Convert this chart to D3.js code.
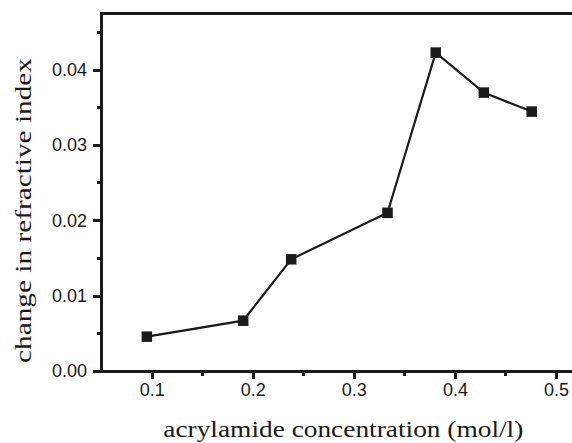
<!DOCTYPE html>
<html><head><meta charset="utf-8">
<script src="https://cdn.jsdelivr.net/npm/d3@7"></script>
<style>body{margin:0;background:#fff}svg{display:block}</style>
</head><body>
<script>
const concentration = [0.0952, 0.1905, 0.238, 0.3333, 0.381, 0.4286, 0.476];
const deltaN = [0.00456, 0.00668, 0.01483, 0.0210, 0.04227, 0.03696, 0.03444];
const xTicks = [0.1, 0.2, 0.3, 0.4, 0.5];
const yTicks = [0.00, 0.01, 0.02, 0.03, 0.04];
const xMinor = [0.15, 0.25, 0.35, 0.45];
const yMinor = [0.005, 0.015, 0.025, 0.035, 0.045];

const W = 572, H = 443;
const ink = "#1a1a1a";
const svg = d3.select("body").append("svg").attr("width", W).attr("height", H);

const x = d3.scaleLinear().domain([0.1, 0.5]).range([151.7, 556]);
const y = d3.scaleLinear().domain([0, 0.04]).range([371, 69.7]);
const x0 = x.invert(101), x1 = x.invert(580), yTop = y.invert(13);

// top border
svg.append("line")
  .attr("x1", 100).attr("x2", 580).attr("y1", 13).attr("y2", 13)
  .attr("stroke", ink).attr("stroke-width", 3).attr("shape-rendering", "crispEdges");

// x axis
const gx = svg.append("g").attr("transform", `translate(0,${y(0)})`)
  .call(d3.axisBottom(x).tickValues(xTicks).tickFormat(d3.format(".1f")).tickSize(8).tickSizeOuter(0).tickPadding(4));
gx.append("g").selectAll("line").data(xMinor).join("line")
  .attr("x1", d => x(d)).attr("x2", d => x(d)).attr("y1", 0).attr("y2", 4.5);
gx.select(".domain").attr("d", `M${x(x0)},0H${x(x1)}`);

// y axis
const gy = svg.append("g").attr("transform", `translate(${x(x0)},0)`)
  .call(d3.axisLeft(y).tickValues(yTicks).tickFormat(d3.format(".2f")).tickSize(8).tickSizeOuter(0).tickPadding(6));
gy.append("g").selectAll("line").data(yMinor).join("line")
  .attr("y1", d => y(d)).attr("y2", d => y(d)).attr("x1", 0).attr("x2", -4.5);
gy.select(".domain").attr("d", `M0,${y(0)+1.5}V${y(yTop)-1.5}`);

svg.selectAll(".domain, g line")
  .attr("stroke", ink).attr("stroke-width", 3).attr("fill", "none").attr("shape-rendering", "crispEdges");
svg.selectAll(".tick text").attr("fill", ink)
  .style("font-family", "'Liberation Sans', Arial, sans-serif").style("font-size", "18px");

// line + markers
const pts = concentration.map((c, i) => [c, deltaN[i]]);
svg.append("path").datum(pts)
  .attr("d", d3.line().x(d => x(d[0])).y(d => y(d[1])))
  .attr("fill", "none").attr("stroke", ink).attr("stroke-width", 2.2);
const s = 10.5;
svg.selectAll("rect.m").data(pts).join("rect").attr("class", "m")
  .attr("x", d => x(d[0]) - s/2).attr("y", d => y(d[1]) - s/2)
  .attr("width", s).attr("height", s).attr("fill", ink);

// axis titles
svg.append("text").text("acrylamide concentration (mol/l)")
  .attr("x", 163.3).attr("y", 437)
  .attr("textLength", 360).attr("lengthAdjust", "spacingAndGlyphs")
  .style("font-family", "'Liberation Serif', 'Times New Roman', serif").style("font-size", "23.5px").attr("fill", ink);
svg.append("text").text("change in refractive index")
  .attr("transform", "translate(31,363) rotate(-90)")
  .attr("textLength", 305).attr("lengthAdjust", "spacingAndGlyphs")
  .style("font-family", "'Liberation Serif', 'Times New Roman', serif").style("font-size", "23.5px").attr("fill", ink);
</script>
</body></html>
